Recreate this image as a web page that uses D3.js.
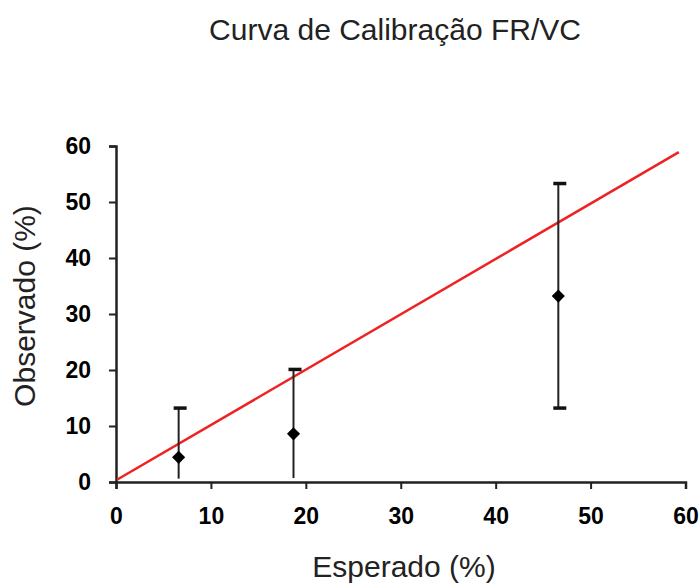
<!DOCTYPE html>
<html>
<head>
<meta charset="utf-8">
<script src="https://cdn.jsdelivr.net/npm/d3@7"></script>
<style>
  body { margin: 0; background: #fff; }
  svg { display: block; }
</style>
</head>
<body>
<div id="chart"></div>
<script>
// chart data
var titleText = "Curva de Calibração FR/VC";
var xLabel = "Esperado (%)";
var yLabel = "Observado (%)";
var xTicks = [0, 10, 20, 30, 40, 50, 60];
var yTicks = [0, 10, 20, 30, 40, 50, 60];

var expected = [6.6, 18.7, 46.6];
var observed = [4.4, 8.6, 33.2];
var errLow = [0.6, 0.7, 13.2];
var errHigh = [13.2, 20.1, 53.3];

// reference line (ideal calibration)
var refLine = [{x: 0.1, y: 0.4}, {x: 59.3, y: 58.9}];

var width = 700, height = 585;
var margin = {top: 146, right: 14, bottom: 103, left: 116};
var fontFam = "Liberation Sans, Arial, Helvetica, sans-serif";

var svg = d3.select("#chart")
  .append("svg")
    .attr("width", width)
    .attr("height", height);

var x = d3.scaleLinear()
  .domain([0, 60])
  .range([margin.left, 685.5]);

var y = d3.scaleLinear()
  .domain([0, 60])
  .range([482, margin.top]);

// title
svg.append("text")
  .attr("x", 395)
  .attr("y", 40)
  .attr("text-anchor", "middle")
  .style("font-family", fontFam)
  .style("font-size", "30px")
  .style("fill", "#222")
  .text(titleText);

// x axis
var xAxis = svg.append("g")
  .attr("transform", "translate(0," + y(0) + ")")
  .call(d3.axisBottom(x).tickValues(xTicks).tickSize(7).tickPadding(19).tickFormat(d3.format("d")));

// y axis
var yAxis = svg.append("g")
  .attr("transform", "translate(" + x(0) + ",0)")
  .call(d3.axisLeft(y).tickValues(yTicks).tickSize(7).tickPadding(18).tickFormat(d3.format("d")));

[xAxis, yAxis].forEach(function(g) {
  g.select(".domain").attr("stroke", "#222").attr("stroke-width", 2.5);
  g.selectAll(".tick line").attr("stroke", "#222").attr("stroke-width", 2);
  g.selectAll(".tick text")
    .style("font-family", fontFam)
    .style("font-weight", "bold")
    .style("font-size", "23px")
    .style("fill", "#000");
});

// axis labels
svg.append("text")
  .attr("x", 404)
  .attr("y", 577)
  .attr("text-anchor", "middle")
  .style("font-family", fontFam)
  .style("font-size", "30px")
  .style("fill", "#222")
  .text(xLabel);

svg.append("text")
  .attr("transform", "translate(35,306) rotate(-90)")
  .attr("text-anchor", "middle")
  .style("font-family", fontFam)
  .style("font-size", "30px")
  .style("fill", "#222")
  .text(yLabel);

// red line
svg.append("path")
  .datum(refLine)
  .attr("fill", "none")
  .attr("stroke", "#ee2222")
  .attr("stroke-width", 2.5)
  .attr("d", d3.line()
    .x(function(d) { return x(d.x); })
    .y(function(d) { return y(d.y); })
  );

var pts = expected.map(function(e, i) {
  return {x: e, y: observed[i], lo: errLow[i], hi: errHigh[i]};
});

// error bars
var eb = svg.append("g").selectAll("g")
  .data(pts)
  .enter().append("g");

eb.append("line")
  .attr("x1", function(d) { return x(d.x); })
  .attr("x2", function(d) { return x(d.x); })
  .attr("y1", function(d) { return y(d.lo); })
  .attr("y2", function(d) { return y(d.hi); })
  .attr("stroke", "#222")
  .attr("stroke-width", 2);

eb.append("line")
  .attr("x1", function(d) { return x(d.x) - 5; })
  .attr("x2", function(d) { return x(d.x) + 8; })
  .attr("y1", function(d) { return y(d.hi); })
  .attr("y2", function(d) { return y(d.hi); })
  .attr("stroke", "#111")
  .attr("stroke-width", 3.5);

eb.filter(function(d) { return d.lo > 5; }).append("line")
  .attr("x1", function(d) { return x(d.x) - 5; })
  .attr("x2", function(d) { return x(d.x) + 8; })
  .attr("y1", function(d) { return y(d.lo); })
  .attr("y2", function(d) { return y(d.lo); })
  .attr("stroke", "#111")
  .attr("stroke-width", 3.5);

// diamond markers
svg.append("g").selectAll("path")
  .data(pts)
  .enter().append("path")
  .attr("transform", function(d) { return "translate(" + x(d.x) + "," + y(d.y) + ")"; })
  .attr("d", d3.symbol().type(d3.symbolDiamond2).size(110))
  .attr("fill", "#000");
</script>
</body>
</html>
